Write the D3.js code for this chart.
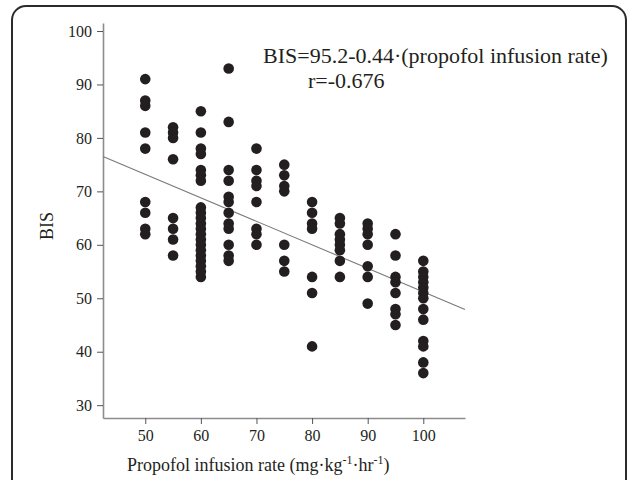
<!DOCTYPE html>
<html>
<head>
<meta charset="utf-8">
<script src="https://cdn.jsdelivr.net/npm/d3@7"></script>
<style>
  body { margin: 0; background: #fff; }
  svg { display: block; font-family: "Liberation Serif", "Times New Roman", serif; }
</style>
</head>
<body>
<div id="chart"></div>
<script>
// BIS readings for each propofol infusion rate (mg/kg/hr)
const rates = [50, 55, 60, 65, 70, 75, 80, 85, 90, 95, 100];
const bis50 = [91, 87, 86, 81, 78, 68, 66, 63, 62];
const bis55 = [82, 81, 80, 76, 65, 63, 61, 58];
const bis60 = [85, 81, 78, 77, 74, 73, 72, 67, 66, 65, 64, 63, 62, 61, 60, 59, 58, 57, 56, 55, 54];
const bis65 = [93, 83, 74, 72, 69, 68, 66, 64, 63, 60, 58, 57];
const bis70 = [78, 74, 72, 71, 68, 63, 62, 60];
const bis75 = [75, 73, 71, 70, 60, 57, 55];
const bis80 = [68, 66, 64, 63, 54, 51, 41];
const bis85 = [65, 64, 62, 61, 60, 59, 57, 54];
const bis90 = [64, 63, 62, 60, 56, 54, 49];
const bis95 = [62, 58, 54, 53, 51, 48, 47, 45];
const bis100 = [57, 55, 54, 53, 52, 51, 50, 48, 46, 42, 41, 38, 36];

const xTicks = [50, 60, 70, 80, 90, 100];
const yTicks = [30, 40, 50, 60, 70, 80, 90, 100];

// regression: BIS = 95.2 - 0.44 * rate
const intercept = 95.2, slope = -0.44;

const groups = [bis50, bis55, bis60, bis65, bis70, bis75, bis80, bis85, bis90, bis95, bis100];
const points = [];
rates.forEach((r, i) => groups[i].forEach(v => points.push({rate: r, bis: v})));

const width = 634, height = 480;
const ink = "#231f20", axisGrey = "#8c8c8c";

const svg = d3.select("#chart").append("svg")
    .attr("width", width)
    .attr("height", height);

// rounded frame
svg.append("rect")
    .attr("x", 12).attr("y", 6)
    .attr("width", 614).attr("height", 520)
    .attr("rx", 14)
    .attr("fill", "none")
    .attr("stroke", "#2b2b2b")
    .attr("stroke-width", 2);

const x = d3.scaleLinear().domain([42.4, 107.5]).range([103, 465]);
const y = d3.scaleLinear().domain([27.6, 101.5]).range([418, 23]);

// axes
const gx = svg.append("g")
    .attr("transform", `translate(0,${y.range()[0]})`)
    .call(d3.axisBottom(x).tickValues(xTicks).tickSize(6).tickPadding(6).tickSizeOuter(0));
const gy = svg.append("g")
    .attr("transform", `translate(${x.range()[0]},0)`)
    .call(d3.axisLeft(y).tickValues(yTicks).tickSize(6).tickPadding(5).tickSizeOuter(0));

for (const g of [gx, gy]) {
    g.select(".domain").attr("stroke", axisGrey).attr("stroke-width", 1.6);
    g.selectAll(".tick line").attr("stroke", "#555").attr("stroke-width", 1);
    g.selectAll(".tick text")
        .attr("fill", ink)
        .style("font-family", "'Liberation Serif', serif")
        .style("font-size", "16px");
}

// regression line
const [x0, x1] = x.domain();
svg.append("line")
    .attr("x1", x(x0)).attr("y1", y(intercept + slope * x0))
    .attr("x2", x(x1)).attr("y2", y(intercept + slope * x1))
    .attr("stroke", "#7a7a7a")
    .attr("stroke-width", 1.1);

// dots
svg.append("g")
    .selectAll("circle")
    .data(points)
    .join("circle")
    .attr("cx", d => x(d.rate))
    .attr("cy", d => y(d.bis))
    .attr("r", 5.3)
    .attr("fill", ink);

// annotation
svg.append("text")
    .attr("x", 263).attr("y", 63)
    .attr("fill", ink)
    .style("font-size", "22px")
    .text("BIS=95.2-0.44·(propofol infusion rate)");
svg.append("text")
    .attr("x", 308).attr("y", 87.5)
    .attr("fill", ink)
    .style("font-size", "22px")
    .text("r=-0.676");

// axis titles
svg.append("text")
    .attr("transform", "translate(53,226) rotate(-90)")
    .attr("text-anchor", "middle")
    .attr("fill", ink)
    .style("font-size", "18px")
    .text("BIS");

const xt = svg.append("text")
    .attr("x", 127).attr("y", 471)
    .attr("fill", ink)
    .style("font-size", "18px");
xt.append("tspan").text("Propofol infusion rate (mg·kg");
xt.append("tspan").attr("dy", -7).style("font-size", "12px").text("-1");
xt.append("tspan").attr("dy", 7).text("·hr");
xt.append("tspan").attr("dy", -7).style("font-size", "12px").text("-1");
xt.append("tspan").attr("dy", 7).text(")");
</script>
</body>
</html>
